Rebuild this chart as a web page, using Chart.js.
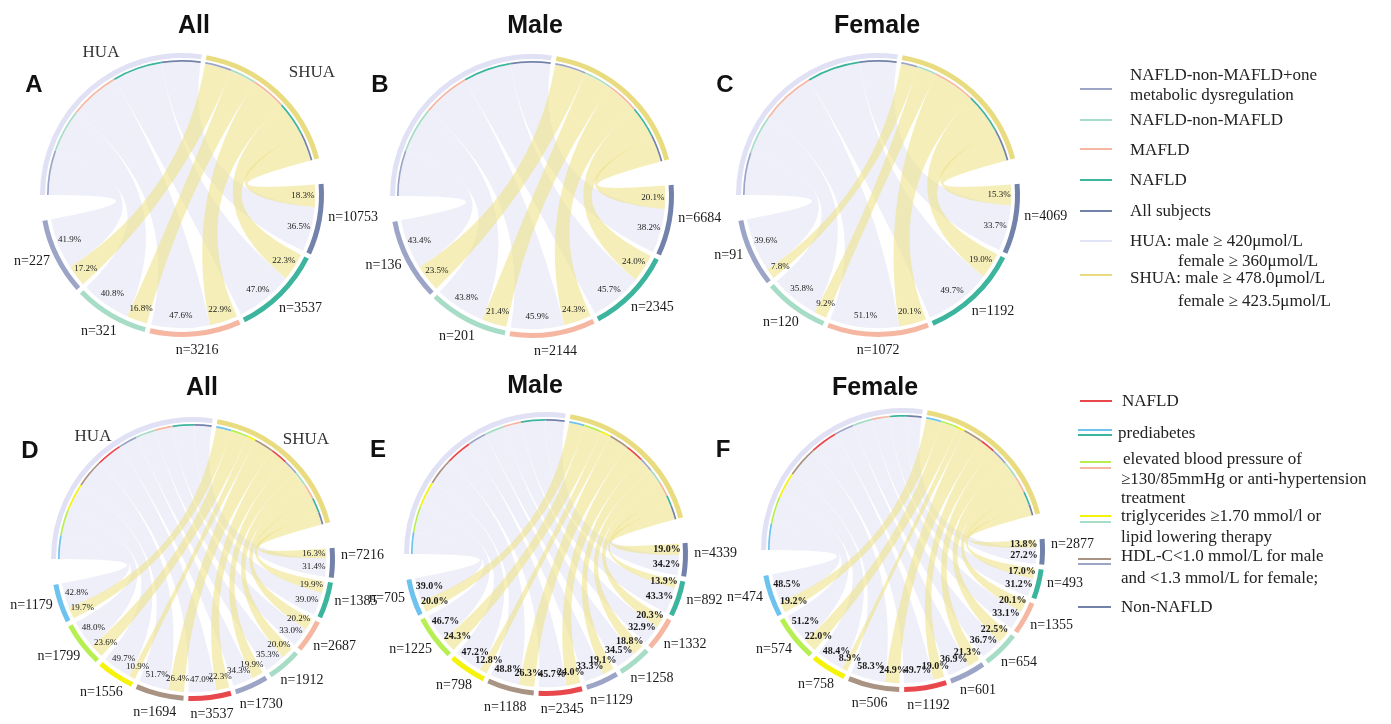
<!DOCTYPE html>
<html lang="en">
<head>
<meta charset="UTF-8">
<title>HUA / SHUA chord diagrams</title>
<script src="https://cdn.jsdelivr.net/npm/chart.js@4"></script>
<style>
    body {
        margin: 0;
        width: 1391px;
        height: 724px;
        overflow: hidden;
        position: relative;
        background: #fff;
        font-family: 'Liberation Serif', 'Times New Roman', serif;
        color: #222;
    }
    canvas { position: absolute; }
    .title, .letter {
        position: absolute;
        font-family: 'Liberation Sans', Arial, sans-serif;
        font-weight: bold;
        color: #111;
        transform: translate(-50%, -50%);
        white-space: nowrap;
    }
    .title { font-size: 25px; }
    .letter { font-size: 24px; }
    .axis-label {
        position: absolute;
        font-size: 17px;
        color: #333;
        transform: translate(-50%, -50%);
    }
    .lg-line { position: absolute; height: 2px; }
    .lg-text {
        position: absolute;
        font-size: 17px;
        white-space: nowrap;
        transform: translateY(-50%);
        color: #222;
    }
</style>
</head>
<body>
<script>
// ---- values: [SHUA %, HUA %] per group, n per group ----
const topGroups = ['All subjects', 'NAFLD', 'MAFLD', 'NAFLD-non-MAFLD', 'NAFLD-non-MAFLD+one metabolic dysregulation'];
const allN = [10753, 3537, 3216, 321, 227];
const allShua = [18.3, 22.3, 22.9, 16.8, 17.2];
const allHua = [36.5, 47.0, 47.6, 40.8, 41.9];
const maleN = [6684, 2345, 2144, 201, 136];
const maleShua = [20.1, 24.0, 24.3, 21.4, 23.5];
const maleHua = [38.2, 45.7, 45.9, 43.8, 43.4];
const femaleN = [4069, 1192, 1072, 120, 91];
const femaleShua = [15.3, 19.0, 20.1, 9.2, 7.8];
const femaleHua = [33.7, 49.7, 51.1, 35.8, 39.6];

const bottomGroups = ['Non-NAFLD', 'Non-NAFLD prediabetes', 'Non-NAFLD elevated BP', 'Non-NAFLD triglycerides',
    'Non-NAFLD low HDL-C', 'NAFLD', 'NAFLD low HDL-C', 'NAFLD triglycerides', 'NAFLD elevated BP', 'NAFLD prediabetes'];
const allMetN = [7216, 1385, 2687, 1912, 1730, 3537, 1694, 1556, 1799, 1179];
const allMetShua = [16.3, 19.9, 20.2, 20.0, 19.9, 22.3, 26.4, 10.9, 23.6, 19.7];
const allMetHua = [31.4, 39.0, 33.0, 35.3, 34.3, 47.0, 51.7, 49.7, 48.0, 42.8];
const maleMetN = [4339, 892, 1332, 1258, 1129, 2345, 1188, 798, 1225, 705];
const maleMetShua = [19.0, 13.9, 20.3, 18.8, 19.1, 24.0, 26.3, 12.8, 24.3, 20.0];
const maleMetHua = [34.2, 43.3, 32.9, 34.5, 33.3, 45.7, 48.8, 47.2, 46.7, 39.0];
const femaleMetN = [2877, 493, 1355, 654, 601, 1192, 506, 758, 574, 474];
const femaleMetShua = [13.8, 17.0, 20.1, 22.5, 21.3, 19.0, 24.9, 8.9, 22.0, 19.2];
const femaleMetHua = [27.2, 31.2, 33.1, 36.7, 36.9, 49.7, 58.3, 48.4, 51.2, 48.5];

// ---- colours ----
const topColors = ['#7282aa', '#3db59e', '#f5b7a2', '#a7dcc7', '#9da5c7'];
const bottomColors = ['#7282aa', '#3db59e', '#f5b7a2', '#a7dcc7', '#9da5c7',
    '#e8474b', '#a99383', '#f5f20c', '#b6ef52', '#6dc3ee'];
const huaColor = '#e1e1f5';
const shuaColor = '#e9dc80';
const huaRibbon = '#efeff9';
const shuaRibbon = 'rgba(236,224,128,0.55)';
const NONE = 'rgba(0,0,0,0)';

// ---- layout ----
const R = 142;
const PAD = 90;
const HUA_SWEEP = 98, SHUA_SWEEP = 65, SMALL_GAP = 2, BIG_GAP = 10.5;

const panels = [
    { letter: 'A', title: 'All', cx: 182, cy: 195, n: allN, shua: allShua, hua: allHua, groups: topGroups, colors: topColors, pctFont: '9px "Liberation Serif"' },
    { letter: 'B', title: 'Male', cx: 532, cy: 196, n: maleN, shua: maleShua, hua: maleHua, groups: topGroups, colors: topColors, pctFont: '9px "Liberation Serif"' },
    { letter: 'C', title: 'Female', cx: 878, cy: 195, n: femaleN, shua: femaleShua, hua: femaleHua, groups: topGroups, colors: topColors, pctFont: '9px "Liberation Serif"' },
    { letter: 'D', title: 'All', cx: 193, cy: 559, n: allMetN, shua: allMetShua, hua: allMetHua, groups: bottomGroups, colors: bottomColors, pctFont: '9px "Liberation Serif"' },
    { letter: 'E', title: 'Male', cx: 546, cy: 554, n: maleMetN, shua: maleMetShua, hua: maleMetHua, groups: bottomGroups, colors: bottomColors, pctFont: 'bold 10px "Liberation Serif"' },
    { letter: 'F', title: 'Female', cx: 903, cy: 550, n: femaleMetN, shua: femaleMetShua, hua: femaleMetHua, groups: bottomGroups, colors: bottomColors, pctFont: 'bold 10px "Liberation Serif"' }
];

const sum = arr => arr.reduce((a, b) => a + b, 0);

function ribbon(ctx, cx, cy, r, a0, a1, b0, b1) {
    ctx.beginPath();
    ctx.arc(cx, cy, r, a0, a1);
    ctx.quadraticCurveTo(cx, cy, cx + r * Math.cos(b0), cy + r * Math.sin(b0));
    ctx.arc(cx, cy, r, b0, b1);
    ctx.quadraticCurveTo(cx, cy, cx + r * Math.cos(a0), cy + r * Math.sin(a0));
    ctx.closePath();
    ctx.fill();
}

// split every group arc into its SHUA part (first, clockwise) and HUA part
function groupParts(track, p) {
    return p.hua.map((h, i) => {
        const el = track[4 + 2 * i];
        const mid = el.startAngle + (el.endAngle - el.startAngle) * p.shua[i] / (p.shua[i] + h);
        return { el, shua: [el.startAngle, mid], hua: [mid, el.endAngle] };
    });
}

function makeChordPlugin(p) {
    const k = p.hua.length;
    return {
        id: 'chord',
        beforeDatasetsDraw(chart) {
            const ctx = chart.ctx;
            const track = chart.getDatasetMeta(0).data;
            const ring = chart.getDatasetMeta(2).data;
            const cx = track[0].x, cy = track[0].y;
            const r = ring[0].innerRadius;
            const parts = groupParts(track, p);
            ctx.save();
            ctx.fillStyle = huaRibbon;
            parts.forEach((pt, i) => {
                const b = ring[k - 1 - i];
                ribbon(ctx, cx, cy, r, pt.hua[0], pt.hua[1], b.startAngle, b.endAngle);
            });
            ctx.fillStyle = shuaRibbon;
            parts.forEach((pt, i) => {
                const b = ring[k + 1 + (k - 1 - i)];
                ribbon(ctx, cx, cy, r, pt.shua[0], pt.shua[1], b.startAngle, b.endAngle);
            });
            ctx.restore();
        },
        afterDatasetsDraw(chart) {
            const ctx = chart.ctx;
            const track = chart.getDatasetMeta(0).data;
            const cx = track[0].x, cy = track[0].y;
            const outer = track[0].outerRadius;
            const parts = groupParts(track, p);
            ctx.save();
            ctx.fillStyle = '#1a1a1a';
            ctx.textAlign = 'center';
            ctx.textBaseline = 'middle';
            ctx.font = p.pctFont;
            const lr = outer - 21;
            parts.forEach((pt, i) => {
                const a1 = (pt.shua[0] + pt.shua[1]) / 2;
                const a2 = (pt.hua[0] + pt.hua[1]) / 2;
                ctx.fillText(p.shua[i].toFixed(1) + '%', cx + lr * Math.cos(a1), cy + lr * Math.sin(a1));
                ctx.fillText(p.hua[i].toFixed(1) + '%', cx + lr * Math.cos(a2), cy + lr * Math.sin(a2));
            });
            ctx.font = '14px "Liberation Serif"';
            parts.forEach((pt, i) => {
                const txt = 'n=' + p.n[i];
                const a = (pt.el.startAngle + pt.el.endAngle) / 2;
                const w = ctx.measureText(txt).width;
                const d = outer + 6 + (w / 2) * Math.abs(Math.cos(a)) + 7 * Math.abs(Math.sin(a));
                const lift = 8 * Math.abs(Math.cos(a));
                ctx.fillText(txt, cx + d * Math.cos(a), cy + d * Math.sin(a) - lift);
            });
            ctx.restore();
        }
    };
}

function buildChart(p) {
    const canvas = document.createElement('canvas');
    const size = 2 * (R + PAD);
    canvas.width = size;
    canvas.height = size;
    canvas.style.left = (p.cx - R - PAD) + 'px';
    canvas.style.top = (p.cy - R - PAD) + 'px';
    document.body.appendChild(canvas);

    const k = p.hua.length;
    const groupTotals = p.hua.map((h, i) => h + p.shua[i]);
    const groupSpace = 360 - HUA_SWEEP - SHUA_SWEEP - SMALL_GAP - 2 * BIG_GAP - SMALL_GAP * (k - 1);
    const all = sum(groupTotals);

    // outer track: HUA, SHUA, then the groups clockwise
    const trackData = [HUA_SWEEP, SMALL_GAP, SHUA_SWEEP, BIG_GAP];
    const trackColors = [huaColor, NONE, shuaColor, NONE];
    const trackLabels = ['HUA', '', 'SHUA', ''];
    groupTotals.forEach((t, i) => {
        if (i) { trackData.push(SMALL_GAP); trackColors.push(NONE); trackLabels.push(''); }
        trackData.push(t / all * groupSpace);
        trackColors.push(p.colors[i]);
        trackLabels.push(p.groups[i]);
    });
    trackData.push(BIG_GAP); trackColors.push(NONE); trackLabels.push('');

    // thin inner ring on HUA / SHUA showing the share of each group
    const order = [...Array(k).keys()].reverse();
    const huaTot = sum(p.hua), shuaTot = sum(p.shua);
    const ringData = [], ringColors = [];
    order.forEach(i => { ringData.push(p.hua[i] / huaTot * HUA_SWEEP); ringColors.push(p.colors[i]); });
    ringData.push(SMALL_GAP); ringColors.push(NONE);
    order.forEach(i => { ringData.push(p.shua[i] / shuaTot * SHUA_SWEEP); ringColors.push(p.colors[i]); });
    ringData.push(360 - HUA_SWEEP - SHUA_SWEEP - SMALL_GAP); ringColors.push(NONE);

    const flat = { borderWidth: 0, hoverBorderWidth: 0, offset: 0, hoverOffset: 0 };
    new Chart(canvas, {
        type: 'doughnut',
        data: {
            labels: trackLabels,
            datasets: [
                Object.assign({ data: trackData, backgroundColor: trackColors, weight: 5 }, flat),
                Object.assign({ data: [1], backgroundColor: [NONE], weight: 2 }, flat),
                Object.assign({ data: ringData, backgroundColor: ringColors, weight: 1.7 }, flat)
            ]
        },
        options: {
            responsive: false,
            animation: false,
            events: [],
            rotation: 270,
            cutout: R - 8.7,
            spacing: 0,
            layout: { padding: PAD },
            plugins: { legend: { display: false }, tooltip: { enabled: false } }
        },
        plugins: [makeChordPlugin(p)]
    });
}

function addText(cls, text, x, y) {
    const el = document.createElement('div');
    el.className = cls;
    el.textContent = text;
    el.style.left = x + 'px';
    el.style.top = y + 'px';
    document.body.appendChild(el);
}

function addLine(color, x1, x2, y) {
    const el = document.createElement('div');
    el.className = 'lg-line';
    el.style.left = x1 + 'px';
    el.style.width = (x2 - x1) + 'px';
    el.style.top = (y - 1) + 'px';
    el.style.background = color;
    document.body.appendChild(el);
}

panels.forEach(buildChart);

// titles and panel letters
addText('title', 'All', 194, 24);
addText('title', 'Male', 535, 24);
addText('title', 'Female', 877, 24);
addText('title', 'All', 202, 386);
addText('title', 'Male', 535, 384);
addText('title', 'Female', 875, 386);
[['A', 34, 84], ['B', 380, 84], ['C', 725, 84], ['D', 30, 450], ['E', 378, 449], ['F', 723, 449]]
    .forEach(l => addText('letter', l[0], l[1], l[2]));

addText('axis-label', 'HUA', 101, 52);
addText('axis-label', 'SHUA', 312, 72);
addText('axis-label', 'HUA', 93, 436);
addText('axis-label', 'SHUA', 306, 439);

// legend, top panels
addLine(topColors[4], 1080, 1112, 89);
addText('lg-text', 'NAFLD-non-MAFLD+one', 1130, 75);
addText('lg-text', 'metabolic dysregulation', 1130, 95);
addLine(topColors[3], 1080, 1112, 120);
addText('lg-text', 'NAFLD-non-MAFLD', 1130, 120);
addLine(topColors[2], 1080, 1112, 149);
addText('lg-text', 'MAFLD', 1130, 150);
addLine(topColors[1], 1080, 1112, 180);
addText('lg-text', 'NAFLD', 1130, 180);
addLine(topColors[0], 1080, 1112, 211);
addText('lg-text', 'All subjects', 1130, 211);
addLine('#e2e4f7', 1080, 1112, 241);
addText('lg-text', 'HUA: male \u2265 420\u03bcmol/L', 1130, 241);
addText('lg-text', 'female \u2265 360\u03bcmol/L', 1178, 261);
addLine(shuaColor, 1080, 1112, 275);
addText('lg-text', 'SHUA: male \u2265 478.0\u03bcmol/L', 1130, 278);
addText('lg-text', 'female \u2265 423.5\u03bcmol/L', 1178, 301);

// legend, bottom panels
addLine(bottomColors[5], 1080, 1112, 401);
addText('lg-text', 'NAFLD', 1122, 401);
addLine(bottomColors[9], 1078, 1112, 430);
addLine(bottomColors[1], 1078, 1112, 435);
addText('lg-text', 'prediabetes', 1118, 433);
addLine(bottomColors[8], 1080, 1111, 462);
addLine(bottomColors[2], 1080, 1111, 468);
addText('lg-text', 'elevated blood pressure of', 1123, 459);
addText('lg-text', '\u2265130/85mmHg or anti-hypertension', 1121, 479);
addText('lg-text', 'treatment', 1121, 498);
addLine(bottomColors[7], 1080, 1111, 516);
addLine(bottomColors[3], 1080, 1111, 522);
addText('lg-text', 'triglycerides \u22651.70 mmol/l or', 1121, 516);
addText('lg-text', 'lipid lowering therapy', 1121, 537);
addLine(bottomColors[6], 1078, 1111, 559);
addLine(bottomColors[4], 1078, 1111, 564);
addText('lg-text', 'HDL-C<1.0 mmol/L for male', 1121, 556);
addText('lg-text', 'and <1.3 mmol/L for female;', 1121, 578);
addLine(bottomColors[0], 1078, 1111, 607);
addText('lg-text', 'Non-NAFLD', 1121, 607);
</script>
</body>
</html>
